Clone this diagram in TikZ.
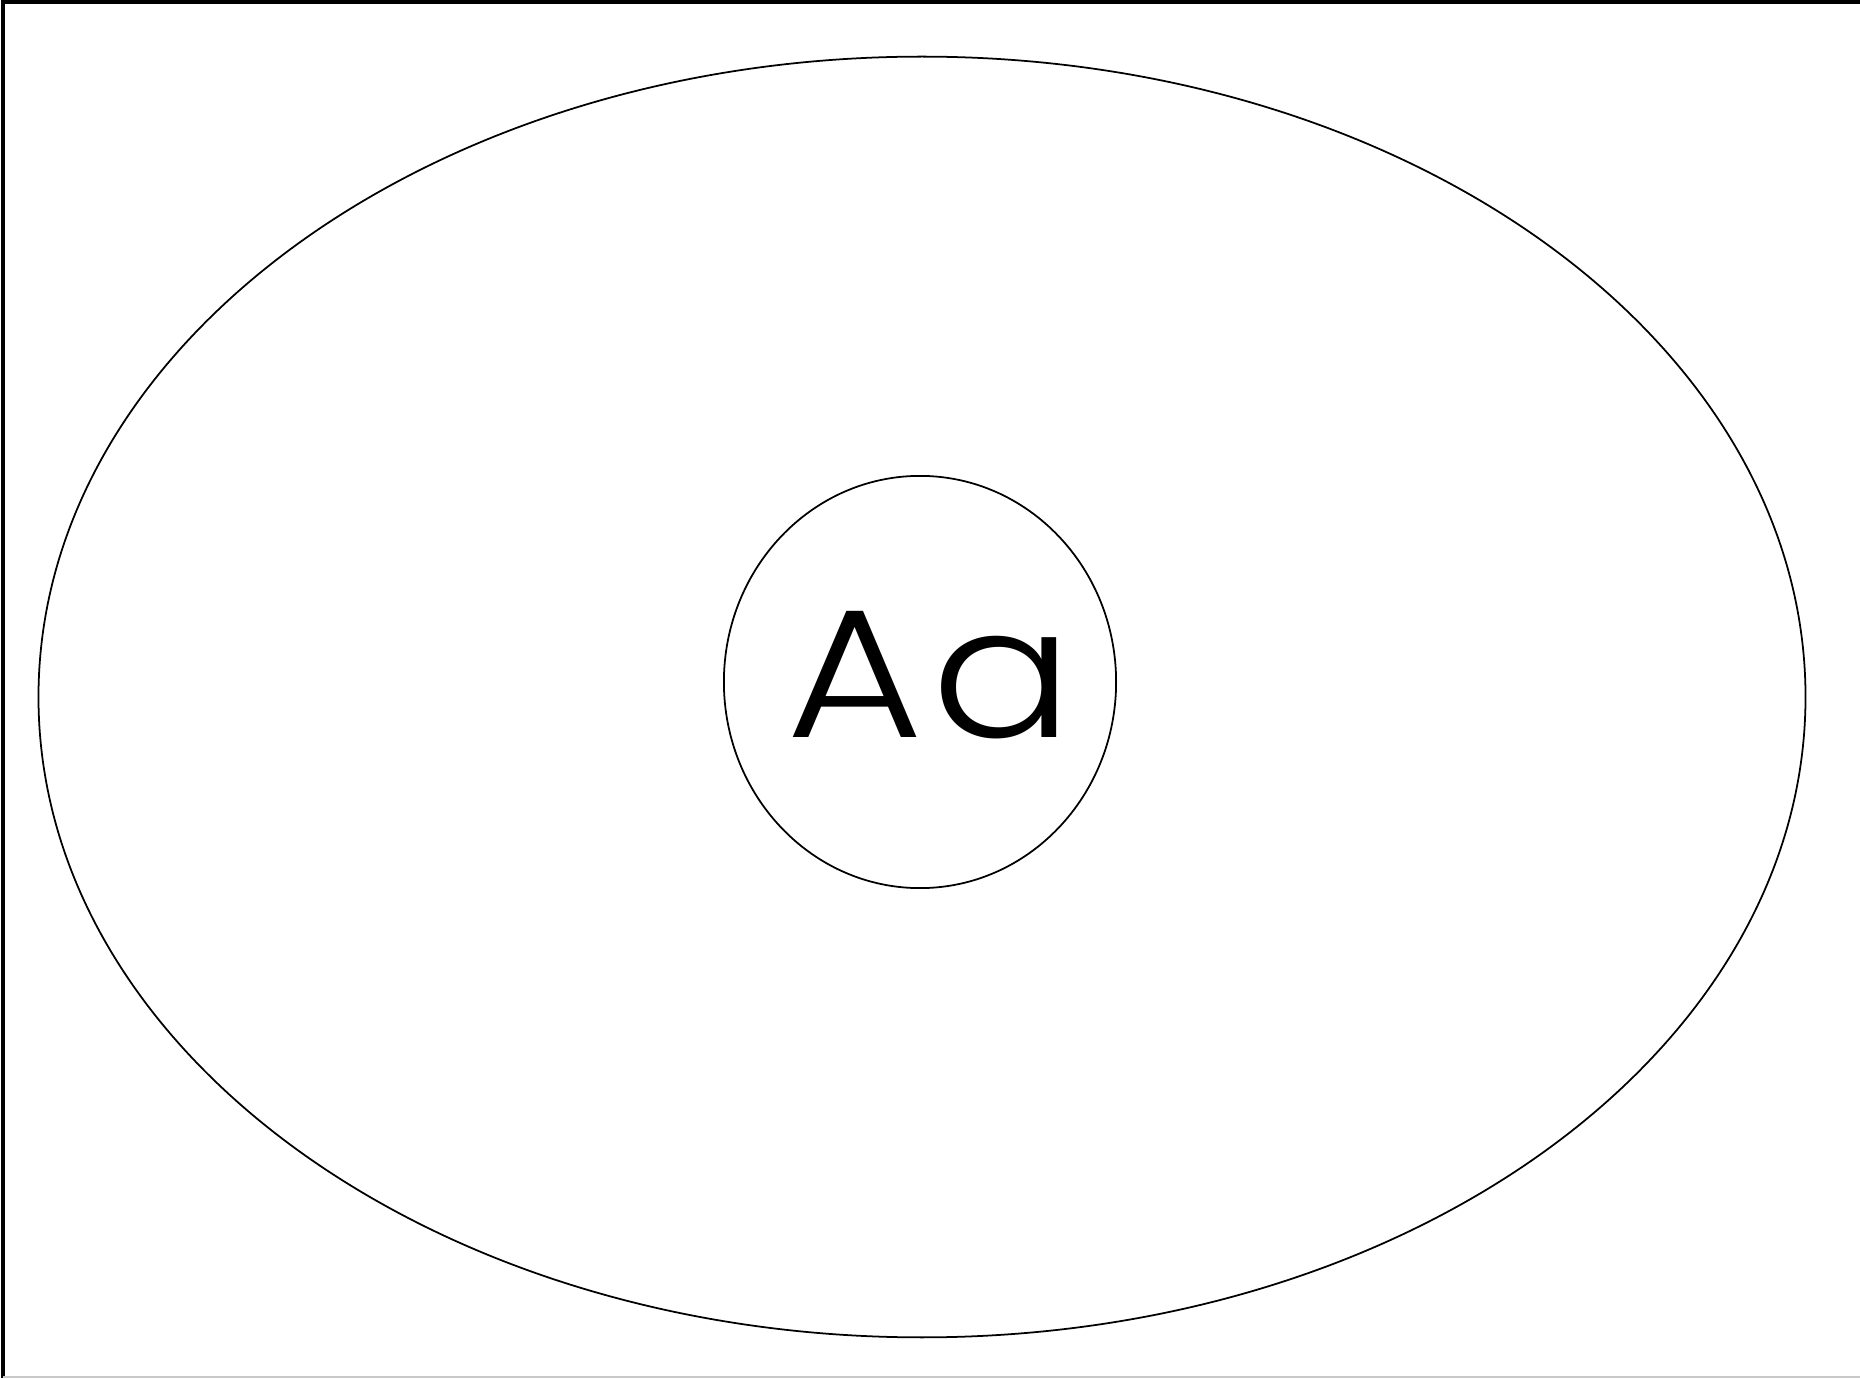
\documentclass[tikz,border=0pt]{standalone}
\usepackage{fontspec}
\setmainfont{Poppins Light}
\usetikzlibrary{shapes.geometric}
\definecolor{inkblack}{HTML}{000000}
\definecolor{edgegrey}{HTML}{C8C8C8}
\tikzset{
  ring/.style   = {ellipse, draw=inkblack, line width=0.5pt, inner sep=0pt},
  glyphs/.style = {inner sep=0pt, text=inkblack, font=\fontsize{52}{60}\selectfont},
  rim/.style    = {draw=inkblack, line width=1.2pt},
}
\begin{document}
\begin{tikzpicture}[x=0.01cm,y=0.01cm]
    \useasboundingbox (0,0) rectangle (1860,1378);
    \draw[rim] (3,0) -- (3,1376.5) -- (1860,1376.5);
    \draw[edgegrey,line width=0.6pt] (3,1) -- (1860,1);
    \node[ring,minimum width=17.66cm,minimum height=12.80cm] (outer) at (922,681) {};
    \node[ring,minimum width=3.92cm,minimum height=4.12cm] (inner) at (920,696) {};
    \node[glyphs,anchor=base,xscale=1.15] (label) at (930,640) {A\kern0.04em a};
  \end{tikzpicture}
\end{document}
